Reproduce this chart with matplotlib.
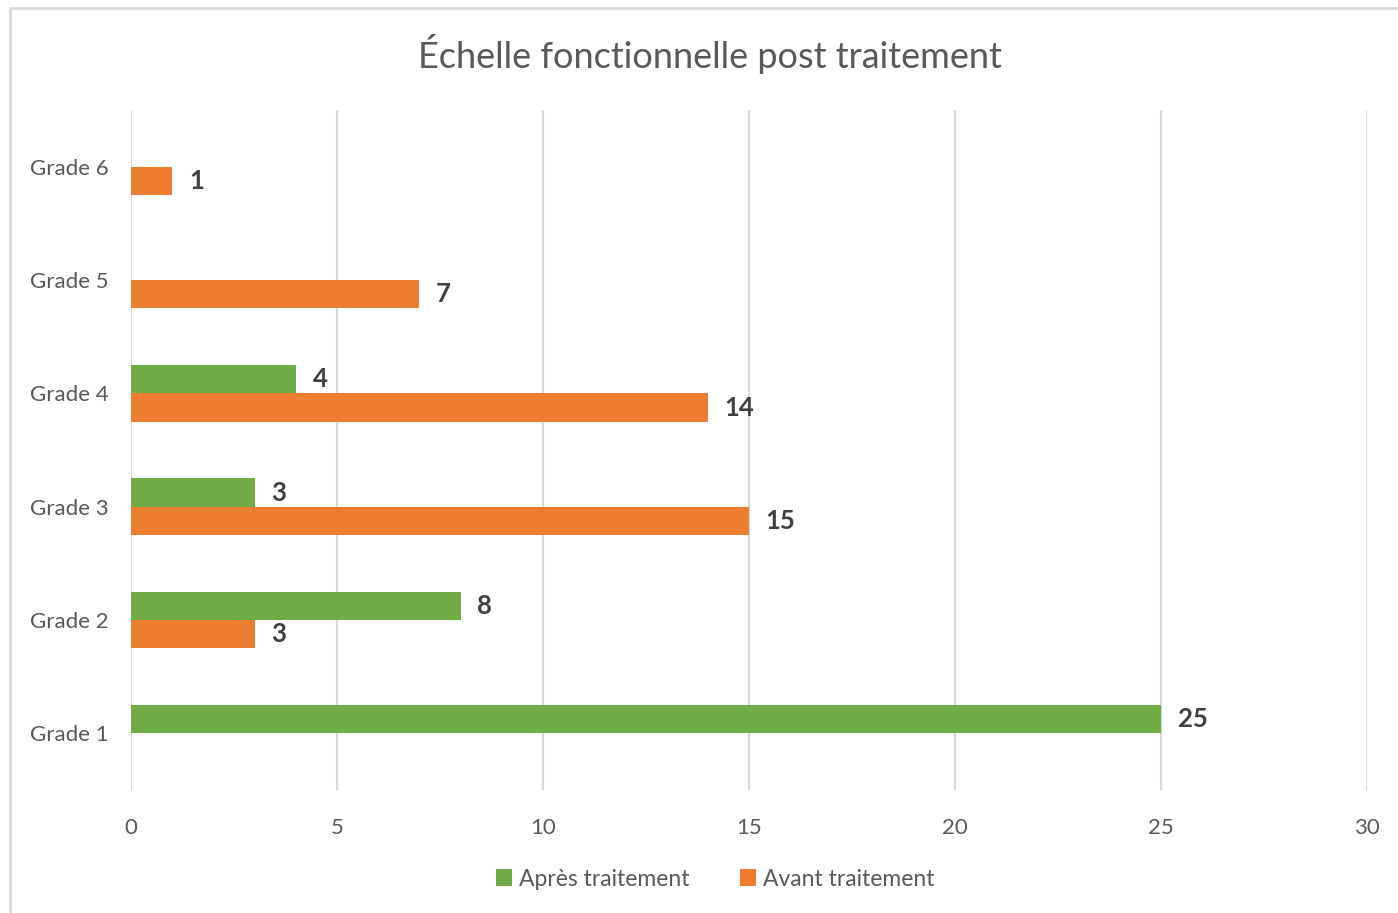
import matplotlib
matplotlib.use("Agg")
import matplotlib.pyplot as plt
from matplotlib.patches import Rectangle
import numpy as np

categories = ["Grade 1", "Grade 2", "Grade 3", "Grade 4", "Grade 5", "Grade 6"]
apres = [25, 8, 3, 4, 0, 0]
avant = [0, 3, 15, 14, 7, 1]
xticks = [0, 5, 10, 15, 20, 25, 30]

plt.rcParams['font.family'] = ['Lato', 'DejaVu Sans']

fig = plt.figure(figsize=(13.98, 9.13), dpi=100)
ax = fig.add_axes([131/1398, 1 - 790/913, (1367 - 131)/1398, (790 - 110)/913])

y = np.arange(len(categories))
h = 0.25
green = "#70AD47"
orange = "#ED7D31"
b1 = ax.barh(y + h/2, apres, height=h, color=green, label="Après traitement", zorder=3)
b2 = ax.barh(y - h/2, avant, height=h, color=orange, label="Avant traitement", zorder=3)

for bars, vals in ((b1, apres), (b2, avant)):
    ax.bar_label(bars, labels=[str(v) if v else "" for v in vals], padding=12,
                 fontsize=18.5, fontweight="bold", color="#404040")

ax.set_xlim(0, 30)
ax.set_ylim(-0.5, len(categories) - 0.5)
ax.set_xticks(xticks)
ax.set_yticks(y)
ax.set_yticklabels(categories)
ax.tick_params(length=0, labelsize=16, colors="#595959")
ax.tick_params(axis="x", pad=20)
ax.tick_params(axis="y", pad=16)
ax.xaxis.grid(True, color="#d9d9d9", linewidth=1.5, zorder=0)
for s in ax.spines.values():
    s.set_visible(False)

fig.text(710/1398, 1 - 54/913, "Échelle fonctionnelle post traitement", ha="center", va="center",
         fontsize=26, color="#595959")

fig.legend(handles=[b1, b2], loc="center", bbox_to_anchor=(715/1398, 1 - 879/913), ncol=2,
           frameon=False, fontsize=16.5, handlelength=0.7, handleheight=0.7, handletextpad=0.3,
           columnspacing=2.2, labelcolor="#595959")

fig.patches.append(Rectangle((10/1398, -0.1), 1.2, 1 - 8/913 + 0.1, transform=fig.transFigure,
                             fill=False, edgecolor="#d9d9d9", linewidth=2, zorder=0))

fig.savefig("out.png", dpi=100)
